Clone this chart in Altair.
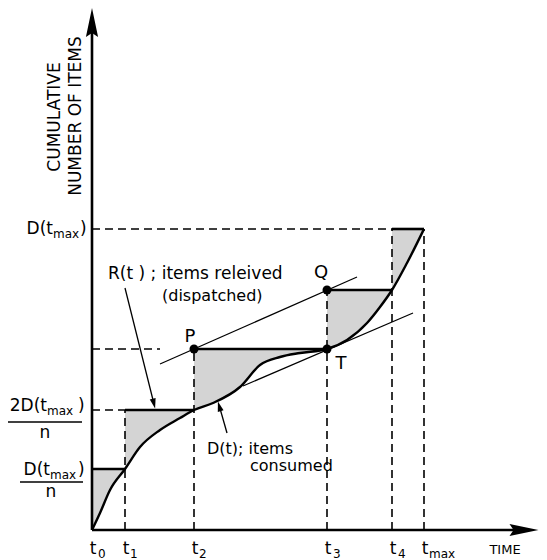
import altair as alt
import pandas as pd

# ---------------- data ----------------
# consumption curve D(t) (time units, item units; origin at t0)
curve_t = [0, 8, 18, 33, 48, 68, 88, 102, 121, 148, 168, 188, 208, 235, 255, 275, 288, 300, 315, 332]
curve_d = [0, 17, 40, 61, 83, 100, 112, 120, 127, 143, 165, 173, 177, 181, 190, 207, 223, 240, 267, 301]

# dispatch instants t0..t4, tmax and staircase levels R(t) (k * D(tmax)/n)
step_times = [0, 33, 102, 235, 300, 332]
step_levels = [61, 120, 181, 240, 301]
time_subs = ["0", "1", "2", "3", "4", "max"]

FONT = "DejaVu Sans"
XS = alt.Scale(domain=[-84, 447], nice=False, zero=False)
YS = alt.Scale(domain=[-30, 522], nice=False, zero=False)


def xq(f="x"):
    return alt.X(f"{f}:Q", scale=XS, axis=None)


def yq(f="y"):
    return alt.Y(f"{f}:Q", scale=YS, axis=None)


# ---------------- shaded areas between staircase and curve ----------------
rows = []
for i, lev in enumerate(step_levels):
    a, b = step_times[i], step_times[i + 1]
    for t, d in zip(curve_t, curve_d):
        if a <= t <= b:
            rows.append({"seg": i, "x": t, "y": d, "y2": lev})
shade = alt.Chart(pd.DataFrame(rows)).mark_area(
    interpolate="monotone", color="#d4d4d4", opacity=1
).encode(x=xq(), y=yq(), y2="y2:Q", detail="seg:N")

# ---------------- dashed guide lines ----------------
dash_rows = [
    {"x": 0, "x2": step_times[5], "y": step_levels[4], "y2": step_levels[4]},
    {"x": 0, "x2": 68, "y": step_levels[2], "y2": step_levels[2]},
    {"x": 0, "x2": step_times[1], "y": step_levels[1], "y2": step_levels[1]},
]
for i in range(1, 5):
    dash_rows.append({"x": step_times[i], "x2": step_times[i], "y": 0, "y2": step_levels[i]})
dash_rows.append({"x": step_times[5], "x2": step_times[5], "y": 0, "y2": step_levels[4]})
dashed = alt.Chart(pd.DataFrame(dash_rows)).mark_rule(
    color="black", strokeWidth=1.6, strokeDash=[8, 5]
).encode(x=xq(), x2="x2:Q", y=yq(), y2="y2:Q")

# ---------------- staircase R(t) ----------------
step_rows = [{"x": step_times[i], "x2": step_times[i + 1], "y": lev, "y2": lev}
             for i, lev in enumerate(step_levels)]
steps = alt.Chart(pd.DataFrame(step_rows)).mark_rule(
    color="black", strokeWidth=2.6
).encode(x=xq(), x2="x2:Q", y=yq(), y2="y2:Q")

# ---------------- D(t) curve ----------------
curve = alt.Chart(pd.DataFrame({"x": curve_t, "y": curve_d})).mark_line(
    interpolate="monotone", color="black", strokeWidth=2.4
).encode(x=xq(), y=yq())

# ---------------- axes ----------------
axes = alt.Chart(pd.DataFrame([
    {"x": 0, "x2": 0, "y": 0, "y2": 512},
    {"x": 0, "x2": 430, "y": 0, "y2": 0},
])).mark_rule(color="black", strokeWidth=2.6).encode(x=xq(), x2="x2:Q", y=yq(), y2="y2:Q")

BIG_ARROW = "M0,-1L0.42,1L0,0.72L-0.42,1Z"
big_arrows = alt.Chart(pd.DataFrame([
    {"x": 0, "y": 507.5, "a": 0},
    {"x": 432, "y": 0, "a": 90},
])).mark_point(shape=BIG_ARROW, filled=True, size=841, color="black", opacity=1,
               strokeWidth=0).encode(x=xq(), y=yq(), angle=alt.Angle("a:Q", scale=None))

# ---------------- tangent lines ----------------
tangents = alt.Chart(pd.DataFrame([
    {"x": 68, "x2": 265, "y": 166, "y2": 253},
    {"x": 151, "x2": 321, "y": 144, "y2": 217},
])).mark_rule(color="black", strokeWidth=1.2).encode(x=xq(), x2="x2:Q", y=yq(), y2="y2:Q")

# ---------------- annotation leaders ----------------
leaders = alt.Chart(pd.DataFrame([
    {"x": 33, "x2": 62, "y": 242, "y2": 126},
    {"x": 135, "x2": 127.3, "y": 97, "y2": 124},
])).mark_rule(color="black", strokeWidth=1.3).encode(x=xq(), x2="x2:Q", y=yq(), y2="y2:Q")

SMALL_ARROW = "M0,-1L0.6,1L-0.6,1Z"
small_arrows = alt.Chart(pd.DataFrame([
    {"x": 61.9, "y": 126.4, "a": 166},
    {"x": 127.3, "y": 123.7, "a": 344},
])).mark_point(shape=SMALL_ARROW, filled=True, size=100, color="black", opacity=1,
               strokeWidth=0).encode(x=xq(), y=yq(), angle=alt.Angle("a:Q", scale=None))

# ---------------- points P, T, Q ----------------
pts = alt.Chart(pd.DataFrame([
    {"x": step_times[2], "y": step_levels[2]},
    {"x": step_times[3], "y": step_levels[2]},
    {"x": step_times[3], "y": step_levels[3]},
])).mark_circle(size=80, color="black", opacity=1).encode(x=xq(), y=yq())


def text_layer(df, size, align="left", angle=0, baseline="middle"):
    return alt.Chart(pd.DataFrame(df)).mark_text(
        font=FONT, fontSize=size, align=align, baseline=baseline, angle=angle, color="black"
    ).encode(x=xq(), y=yq(), text="t:N")


point_labels = text_layer([
    {"x": 98, "y": 193, "t": "P"},
    {"x": 229, "y": 257, "t": "Q"},
    {"x": 249, "y": 166, "t": "T"},
], 18, align="center")

notes_a = text_layer([
    {"x": 16, "y": 256, "t": "R(t ) ; items releived"},
], 17)
notes_b = text_layer([
    {"x": 70, "y": 234, "t": "(dispatched)"},
    {"x": 115, "y": 81, "t": "D(t); items"},
    {"x": 158, "y": 64, "t": "consumed"},
], 16)

axis_titles = text_layer([
    {"x": -37, "y": 413, "t": "CUMULATIVE"},
    {"x": -16, "y": 414, "t": "NUMBER OF ITEMS"},
], 17, align="center", angle=270)

time_title = text_layer([{"x": 413, "y": -20, "t": "TIME"}], 13, align="center")

# time tick labels: "t" + subscript
t_main = text_layer([{"x": t + 1, "y": -19, "t": "t"} for t in step_times], 17, align="center")
sub_dx = [6, 5, 5, 6, 6, 5]
t_sub = text_layer([{"x": step_times[i] + sub_dx[i], "y": -24, "t": s}
                    for i, s in enumerate(time_subs)], 12, align="left")

# y level labels
ymain = text_layer([
    {"x": -39, "y": step_levels[4], "t": "D(t"},
    {"x": -45, "y": step_levels[1] + 4, "t": "2D(t"},
    {"x": -42, "y": step_levels[0] - 1, "t": "D(t"},
], 17, align="right")
ysub = text_layer([
    {"x": -39, "y": step_levels[4] - 5, "t": "max"},
    {"x": -45, "y": step_levels[1] - 1, "t": "max"},
    {"x": -42, "y": step_levels[0] - 6, "t": "max"},
], 12, align="left")
yclose = text_layer([
    {"x": -12, "y": step_levels[4], "t": ")"},
    {"x": -14, "y": step_levels[1] + 4, "t": ")"},
    {"x": -14, "y": step_levels[0] - 1, "t": ")"},
], 17, align="left")
ydenom = text_layer([
    {"x": -47, "y": 97, "t": "n"},
    {"x": -41, "y": 38, "t": "n"},
], 17, align="center")
frac_bars = alt.Chart(pd.DataFrame([
    {"x": -84, "x2": -10, "y": 108, "y2": 108},
    {"x": -72, "x2": -9, "y": 48, "y2": 48},
])).mark_rule(color="black", strokeWidth=1.5).encode(x=xq(), x2="x2:Q", y=yq(), y2="y2:Q")

chart = alt.layer(
    shade, dashed, curve, steps, axes, big_arrows, tangents, leaders, small_arrows, pts,
    point_labels, notes_a, notes_b, axis_titles, time_title, t_main, t_sub,
    ymain, ysub, yclose, ydenom, frac_bars,
).properties(
    width=531, height=552, padding=0, autosize=alt.AutoSizeParams(type="none"),
    background="white",
).configure_view(strokeWidth=0)

chart.save("out.html", embed_options={"renderer": "svg", "actions": False})
